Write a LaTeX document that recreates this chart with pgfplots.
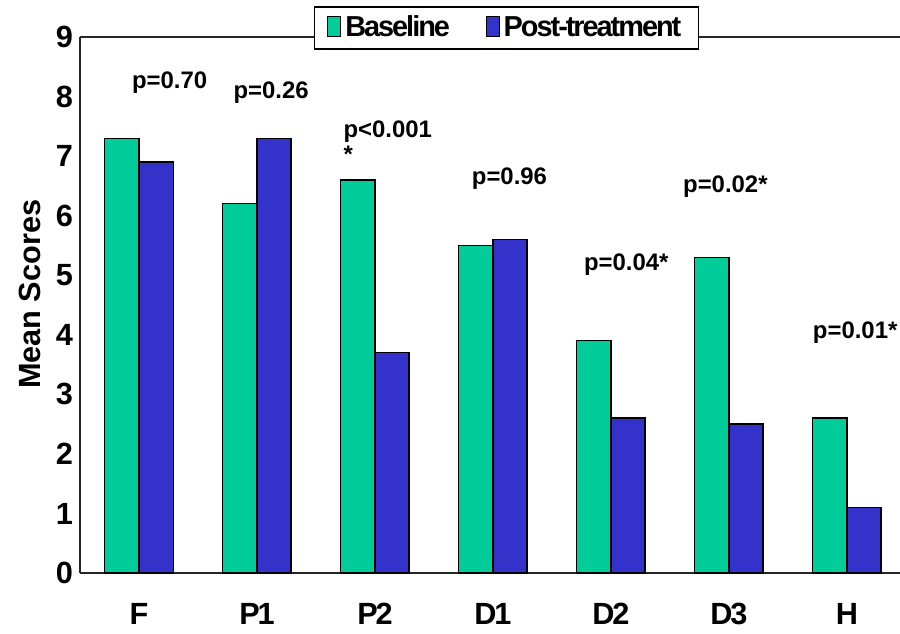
\documentclass[border=0pt]{standalone}
\usepackage{pgfplots}
\pgfplotsset{compat=1.18}
\usepackage{fontspec}
\setmainfont{Liberation Sans}
\newfontfamily\tight[LetterSpace=-7]{Liberation Sans}
\definecolor{base}{HTML}{00CC99}
\definecolor{post}{HTML}{3333CC}
\begin{document}
\begin{tikzpicture}
\begin{axis}[
  at={(0,0)}, anchor=south west,
  scale only axis, width=410bp, height=268bp,
  xmin=-0.5, xmax=6.45, ymin=0, ymax=9,
  axis x line=box, axis y line=left,
  axis line style={-, line width=0.75bp, color=black!85},
  x axis line style={-}, y axis line style={-},
  xtick={0,...,6}, xticklabels={F,P1,P2,D1,D2,D3,H},
  ytick={0,...,9},
  major tick length=0pt,
  xticklabel pos=bottom,
  /pgf/number format/assume math mode=true,
  yticklabel style={font=\bfseries\fontsize{15.4}{16}\selectfont},
  xticklabel style={font=\tight\bfseries\fontsize{15.4}{16}\selectfont, yshift=-11.5bp},
  ylabel={Mean Scores},
  every axis y label/.style={at={(axis description cs:-0.061,0.52)}, rotate=90, anchor=center, font=\bfseries\fontsize{15.4}{16}\selectfont},
  legend style={at={(0.52,1.017)}, anchor=center, legend columns=2, draw=black, line width=0.75bp, fill=white,
    font=\tight\bfseries\fontsize{14.5}{15}\selectfont, inner ysep=2.5bp, inner xsep=6.5bp,
    /tikz/every even column/.append style={column sep=16bp}},
  legend image code/.code={\draw[#1, draw=black, line width=0.4bp] (0bp,-4.5bp) rectangle (6.5bp,5.5bp);},
  bar width=0.29,
]
\addplot[ybar, bar shift=-0.145, fill=base, draw=black, line width=0.7bp] coordinates {(0,7.3) (1,6.2) (2,6.6) (3,5.5) (4,3.9) (5,5.3) (6,2.6)};
\addlegendentry{Baseline}
\addplot[ybar, bar shift=0.145, fill=post, draw=black, line width=0.7bp] coordinates {(0,6.9) (1,7.3) (2,3.7) (3,5.6) (4,2.6) (5,2.5) (6,1.1)};
\addlegendentry{Post-treatment}
\begin{scope}[every node/.style={font=\bfseries\fontsize{12}{13}\selectfont}]
\node at (axis cs:0.26,8.24) {p=0.70};
\node at (axis cs:1.12,8.06) {p=0.26};
\node[align=left, anchor=north west, inner sep=0pt, font=\bfseries\fontsize{12}{12.5}\selectfont] at (axis cs:1.73,7.6) {p<0.001\\*};
\node at (axis cs:3.14,6.63) {p=0.96};
\node at (axis cs:4.13,5.17) {p=0.04*};
\node at (axis cs:4.97,6.48) {p=0.02*};
\node at (axis cs:6.07,4.03) {p=0.01*};
\end{scope}
\end{axis}
\pgfresetboundingbox
\useasboundingbox (-40bp,-30.5bp) rectangle (410bp,286.5bp);
\end{tikzpicture}
\end{document}
